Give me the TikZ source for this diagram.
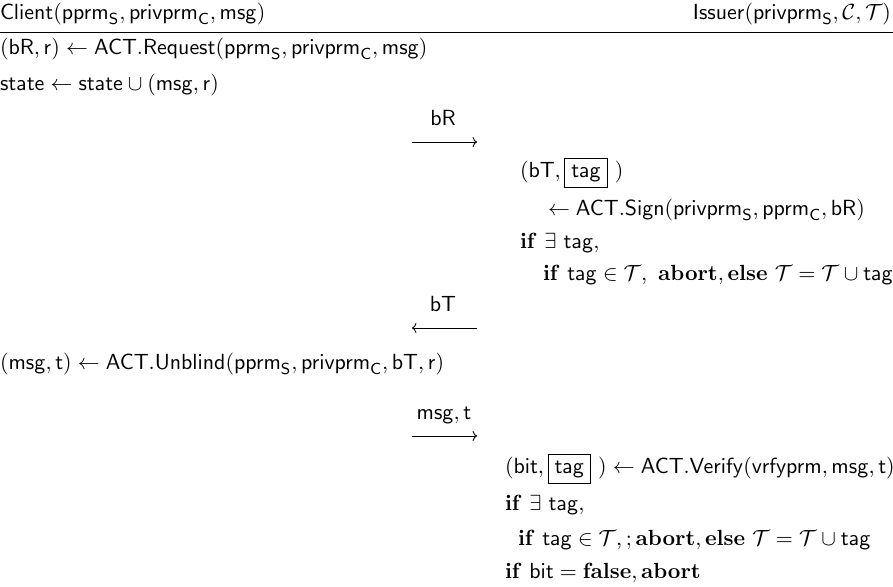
\documentclass[tikz,border=0pt]{standalone}
\usepackage{amsmath}
\usetikzlibrary{arrows.meta}
\newcommand{\sfm}[1]{\mathsf{#1}}
\newcommand{\calT}{\mathcal{T}}
\begin{document}
\begin{tikzpicture}[x=0.5pt,y=-0.5pt,
  txt/.style={anchor=base west,inner sep=0pt,outer sep=0pt,font=\fontsize{10.8}{13}\selectfont},
  txtr/.style={anchor=base east,inner sep=0pt,outer sep=0pt,font=\fontsize{10.8}{13}\selectfont},
  lbl/.style={anchor=base,inner sep=0pt,outer sep=0pt,font=\fontsize{10.8}{13}\selectfont},
  msgarrow/.style={-{To[length=2.2pt,width=5pt]},line width=0.45pt},
  rule/.style={line width=0.5pt}]
\useasboundingbox (0,0) rectangle (893,586);
% header
\node[txt] (client) at (0,19) {$\sfm{Client}(\sfm{pprm}_{\sfm{S}}, \sfm{privprm}_{\sfm{C}}, \sfm{msg})$};
\node[txtr] (issuer) at (891,19) {$\sfm{Issuer}(\sfm{privprm}_{\sfm{S}}, \mathcal{C}, \calT)$};
\coordinate (hl) at (0,32);
\coordinate (hr) at (893,32);
\draw[rule] (hl) -- (hr);
% client rows
\node[txt] (req) at (0,54) {$(\sfm{bR}, \sfm{r}) \leftarrow \sfm{ACT.Request}(\sfm{pprm}_{\sfm{S}}, \sfm{privprm}_{\sfm{C}}, \sfm{msg})$};
\node[txt] (state) at (0,90) {$\sfm{state} \leftarrow \sfm{state} \cup (\sfm{msg}, \sfm{r})$};
% arrow 1
\coordinate (a1s) at (412,142);
\coordinate (a1e) at (477,142);
\draw[msgarrow] (a1s) -- (a1e);
\node[lbl] (l1) at (443,125) {$\sfm{bR}$};
% sign block
\node[txt] (sign1) at (520,177) {$(\sfm{bT}, \fbox{$\sfm{tag}$}\ )$};
\node[txt] (sign2) at (548,215) {$\leftarrow \sfm{ACT.Sign}(\sfm{privprm}_{\sfm{S}}, \sfm{pprm}_{\sfm{C}}, \sfm{bR})$};
\node[txt] (sign3) at (520,248) {$\mathbf{if}\ \exists\ \sfm{tag},$};
\node[txt] (sign4) at (543,280) {$\mathbf{if}\ \sfm{tag} \in \calT,\ \mathbf{abort}, \mathbf{else}\ \calT = \calT \cup \sfm{tag}$};
% arrow 2
\coordinate (a2s) at (412,328);
\coordinate (a2e) at (477,328);
\draw[msgarrow] (a2e) -- (a2s);
\node[lbl] (l2) at (443,311) {$\sfm{bT}$};
% unblind
\node[txt] (unb) at (0,369) {$(\sfm{msg}, \sfm{t}) \leftarrow \sfm{ACT.Unblind}(\sfm{pprm}_{\sfm{S}}, \sfm{privprm}_{\sfm{C}}, \sfm{bT}, \sfm{r})$};
% arrow 3
\coordinate (a3s) at (412,436);
\coordinate (a3e) at (477,436);
\draw[msgarrow] (a3s) -- (a3e);
\node[lbl] (l3) at (444,419) {$\sfm{msg}, \sfm{t}$};
% verify block
\node[txt] (ver1) at (505,473) {$(\sfm{bit}, \fbox{$\sfm{tag}$}\ ) \leftarrow \sfm{ACT.Verify}(\sfm{vrfyprm}, \sfm{msg}, \sfm{t})$};
\node[txt] (ver2) at (505,510) {$\mathbf{if}\ \exists\ \sfm{tag},$};
\node[txt] (ver3) at (518,545) {$\mathbf{if}\ \sfm{tag} \in \calT, ; \mathbf{abort}, \mathbf{else}\ \calT = \calT \cup \sfm{tag}$};
\node[txt] (ver4) at (505,578) {$\mathbf{if}\ \sfm{bit} = \mathbf{false}, \mathbf{abort}$};
\end{tikzpicture}
\end{document}
